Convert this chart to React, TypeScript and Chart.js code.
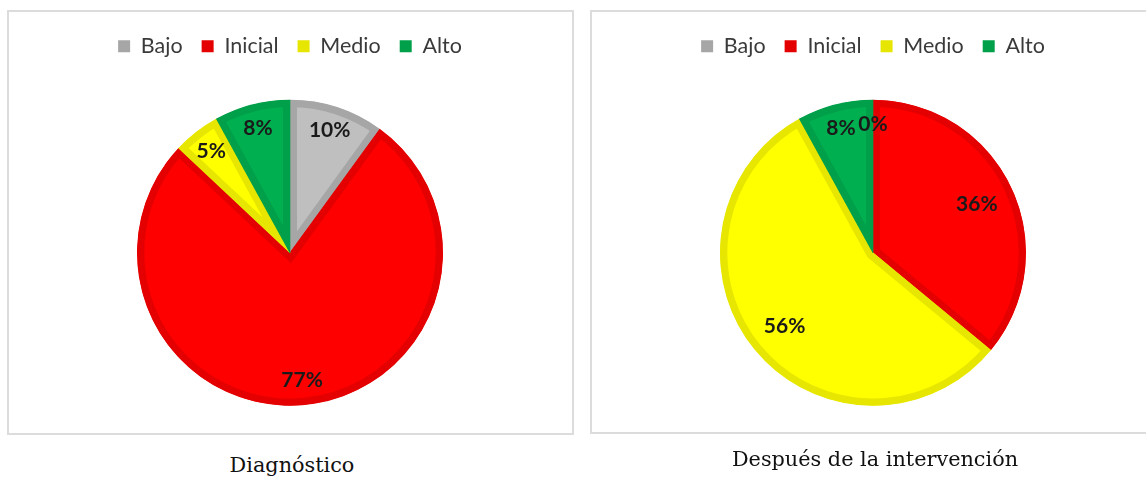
import React, { useEffect, useRef } from "react";
import { Chart, registerables } from "chart.js";

Chart.register(...registerables);

const categories = ["Bajo", "Inicial", "Medio", "Alto"];
const diagnosticoValues = [10, 77, 5, 8];
const despuesValues = [0, 36, 56, 8];
const captionTexts = ["Diagnóstico", "Después de la intervención"];

const fillColors = ["#BFBFBF", "#FF0000", "#FFFF00", "#00B050"];
const borderColors = ["#A6A6A6", "#E40000", "#E6E600", "#00A04A"];

const sliceLabelPlugin = {
  id: "sliceLabels",
  afterDatasetsDraw(chart: any, _args: any, opts: any) {
    const ctx = chart.ctx;
    const meta = chart.getDatasetMeta(0);
    const data = chart.data.datasets[0].data as number[];
    const total = data.reduce((a: number, b: number) => a + b, 0);
    ctx.save();
    ctx.font = "bold 21px Lato, 'Noto Sans', sans-serif";
    ctx.fillStyle = "#1a1a1a";
    ctx.textAlign = "center";
    ctx.textBaseline = "middle";
    meta.data.forEach((arc: any, i: number) => {
      const p = arc.getProps(["x", "y", "startAngle", "endAngle", "outerRadius"], true);
      const mid = (p.startAngle + p.endAngle) / 2;
      const share = data[i] / total;
      const f = share >= 0.3 && share < 0.7 ? opts.bigFactor : opts.factor;
      const r = p.outerRadius * f;
      ctx.fillText(data[i] + "%", p.x + Math.cos(mid) * r, p.y + Math.sin(mid) * r);
    });
    ctx.restore();
  },
};

function PieChart({ values, bigFactor }: { values: number[]; bigFactor: number }) {
  const ref = useRef<HTMLCanvasElement | null>(null);
  useEffect(() => {
    if (!ref.current) return;
    const chart = new Chart(ref.current, {
      type: "pie",
      data: {
        labels: categories,
        datasets: [
          {
            data: values,
            backgroundColor: fillColors,
            borderColor: borderColors,
            borderWidth: 7,
            borderAlign: "inner",
            borderJoinStyle: "miter",
            radius: 153,
          } as any,
        ],
      },
      options: {
        responsive: false,
        animation: false,
        devicePixelRatio: 1,
        layout: { padding: { top: 4.5, bottom: 13.5, left: 0, right: 0 } },
        plugins: {
          tooltip: { enabled: false },
          legend: {
            display: true,
            position: "top",
            labels: {
              boxWidth: 12,
              boxHeight: 12,
              padding: 19,
              color: "#3a3a3a",
              font: { family: "Lato, 'Noto Sans', sans-serif", size: 21.5 },
              generateLabels: (c: any) =>
                categories.map((t, i) => ({
                  text: t,
                  fillStyle: borderColors[i],
                  strokeStyle: borderColors[i],
                  lineWidth: 0,
                  hidden: false,
                  index: i,
                  fontColor: "#3a3a3a",
                })),
            },
          },
          sliceLabels: { factor: 0.84, bigFactor },
        } as any,
      },
      plugins: [sliceLabelPlugin],
    });
    return () => chart.destroy();
  }, [values, bigFactor]);
  return <canvas ref={ref} width={562} height={440} style={{ display: "block" }} />;
}

export default function App() {
  const captionStyle: React.CSSProperties = {
    position: "absolute",
    width: 400,
    textAlign: "center",
    fontFamily: "'DejaVu Serif', serif",
    fontSize: 20.8,
    lineHeight: "26px",
    color: "#111",
  };
  return (
    <div
      style={{
        position: "absolute",
        left: 0,
        top: 0,
        width: 1146,
        height: 480,
        overflow: "hidden",
        background: "#fff",
      }}
    >
      <div
        style={{
          position: "absolute",
          left: 7,
          top: 10,
          width: 567,
          height: 425,
          boxSizing: "border-box",
          border: "2px solid #dcdcdc",
        }}
      />
      <div
        style={{
          position: "absolute",
          left: 590,
          top: 10,
          width: 572,
          height: 424,
          boxSizing: "border-box",
          border: "2px solid #dcdcdc",
        }}
      />
      <div style={{ position: "absolute", left: 9, top: 12 }}>
        <PieChart values={diagnosticoValues} bigFactor={0.84} />
      </div>
      <div style={{ position: "absolute", left: 592, top: 12 }}>
        <PieChart values={despuesValues} bigFactor={0.75} />
      </div>
      <div style={{ ...captionStyle, left: 92, top: 452 }}>{captionTexts[0]}</div>
      <div style={{ ...captionStyle, left: 675, top: 446 }}>{captionTexts[1]}</div>
    </div>
  );
}
